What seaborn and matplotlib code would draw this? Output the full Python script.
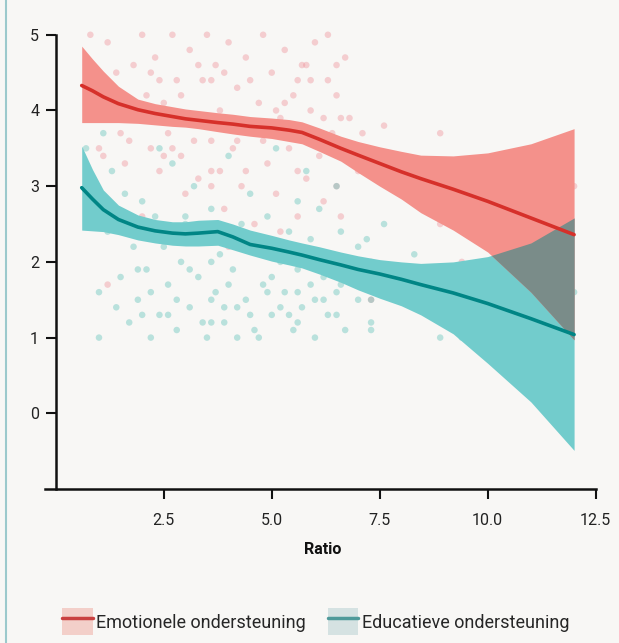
import numpy as np
import pandas as pd
import matplotlib.pyplot as plt
import seaborn as sns
from matplotlib.patches import Patch
from matplotlib.lines import Line2D

# scatter points (ratio, score)
emo_x = [0.7, 0.8, 1.0, 1.2, 1.3, 1.5, 1.6, 1.8, 1.9, 2.0, 2.1, 2.2, 2.3, 2.4, 2.5, 2.6, 2.7, 2.8, 2.9, 3.0,
         3.1, 3.2, 3.3, 3.4, 3.5, 3.6, 3.7, 3.8, 3.8, 3.9, 4.0, 4.1, 4.2, 4.3, 4.4, 4.5, 4.6, 4.7, 4.8, 4.9,
         5.0, 5.1, 5.2, 5.3, 5.4, 5.5, 5.6, 5.6, 5.7, 5.8, 5.9, 6.0, 6.1, 6.2, 6.3, 6.4, 6.5, 6.5, 6.6, 6.7,
         6.8, 7.0, 7.3, 7.3, 7.6, 8.2, 8.9, 8.9, 9.4, 12.0, 1.2, 2.0, 3.0, 4.0, 5.2, 7.3, 1.1, 2.4, 3.6, 6.3,
         0.9, 1.4, 1.7, 2.2, 2.5, 2.9, 3.3, 3.6, 3.6, 3.6, 4.2, 4.5, 4.8, 5.3, 5.6, 5.6, 5.9, 6.2, 6.5, 6.8,
         1.0, 1.6, 2.7, 3.2, 3.9, 4.4, 5.1, 5.8, 6.6, 7.1]
emo_y = [4.6, 5.0, 4.4, 4.9, 4.2, 3.7, 3.3, 4.6, 3.9, 5.0, 4.2, 3.5, 4.7, 3.2, 4.1, 3.7, 5.0, 4.4, 3.4, 2.9,
         4.8, 3.9, 3.1, 4.4, 5.0, 3.6, 4.6, 3.2, 4.0, 2.7, 4.9, 3.5, 4.3, 3.0, 4.7, 3.8, 2.5, 4.1, 5.0, 3.3,
         4.5, 2.9, 3.9, 4.8, 3.5, 4.2, 2.6, 3.8, 4.6, 3.1, 4.0, 4.9, 3.4, 2.8, 4.4, 3.7, 4.2, 3.0, 2.6, 4.7,
         3.5, 3.2, 2.0, 1.5, 3.8, 2.9, 3.7, 2.5, 2.0, 3.0, 1.7, 2.6, 2.3, 2.2, 2.4, 1.8, 3.4, 4.4, 3.0, 5.0,
         3.9, 4.5, 3.6, 4.5, 3.4, 4.2, 4.6, 4.4, 3.9, 3.2, 3.6, 4.4, 3.6, 4.1, 4.4, 3.2, 4.4, 3.9, 4.6, 3.9,
         3.5, 4.0, 3.5, 3.6, 4.5, 3.2, 4.0, 4.6, 3.9, 3.7]

edu_x = [0.7, 0.8, 1.0, 1.1, 1.3, 1.5, 1.6, 1.8, 1.9, 2.0, 2.1, 2.2, 2.3, 2.4, 2.5, 2.6, 2.7, 2.8, 2.9, 3.0,
         3.1, 3.2, 3.3, 3.4, 3.5, 3.6, 3.7, 3.8, 3.9, 4.0, 4.1, 4.2, 4.3, 4.4, 4.5, 4.6, 4.7, 4.8, 4.9, 5.0,
         5.1, 5.2, 5.3, 5.4, 5.5, 5.6, 5.6, 5.7, 5.8, 5.9, 6.0, 6.1, 6.2, 6.3, 6.4, 6.5, 6.5, 6.6, 6.7, 6.8,
         7.0, 7.2, 7.3, 7.3, 7.6, 8.3, 8.9, 9.4, 9.4, 11.4, 12.0, 1.2, 3.0, 4.3, 2.4, 3.9, 5.0, 1.7,
         1.4, 1.9, 2.2, 2.6, 3.1, 3.6, 3.6, 3.6, 4.0, 4.5, 4.9, 5.2, 5.6, 5.6, 5.9, 6.2, 6.5, 6.9, 7.3, 7.3,
         1.0, 2.0, 2.8, 3.4, 4.2, 4.7, 5.4, 6.0, 6.6, 7.0]
edu_y = [3.5, 2.7, 1.0, 3.7, 3.2, 1.8, 2.9, 2.2, 1.5, 2.8, 1.9, 1.0, 2.6, 1.3, 2.2, 1.7, 3.3, 1.1, 2.0, 2.5,
         1.4, 3.0, 1.8, 2.3, 1.0, 2.7, 1.6, 2.1, 1.2, 3.4, 1.9, 1.0, 2.5, 1.5, 2.9, 1.1, 2.2, 1.7, 2.6, 1.3,
         3.5, 2.0, 1.6, 2.4, 1.1, 2.8, 1.9, 1.4, 3.2, 2.3, 1.0, 2.7, 1.8, 1.3, 2.1, 3.0, 1.6, 2.4, 1.1, 2.0,
         1.5, 2.3, 1.2, 1.7, 2.5, 2.1, 1.0, 1.5, 1.0, 1.0, 1.6, 2.4, 2.6, 3.8, 3.5, 1.4, 1.8, 1.2,
         1.4, 1.9, 1.6, 1.3, 1.9, 1.5, 2.0, 1.2, 1.7, 1.3, 1.6, 1.4, 1.6, 1.2, 1.7, 1.5, 1.3, 1.8, 1.5, 1.1,
         1.6, 1.3, 1.5, 1.2, 1.4, 1.0, 1.3, 1.5, 1.7, 2.2]

# smoothed fit + confidence band
grid = [0.6, 0.85, 1.1, 1.45, 1.9, 2.3, 2.7, 3.0, 3.3, 3.75, 4.1, 4.5, 5.0, 5.4, 5.7, 6.1, 6.6, 7.0,
        7.5, 8.0, 8.45, 9.2, 10.0, 11.0, 12.0]
emo_fit = [4.33, 4.26, 4.18, 4.09, 4.01, 3.96, 3.92, 3.89, 3.87, 3.84, 3.82, 3.79, 3.77, 3.74, 3.71,
           3.62, 3.50, 3.41, 3.30, 3.19, 3.10, 2.96, 2.80, 2.58, 2.36]
emo_hi = [4.85, 4.68, 4.52, 4.32, 4.15, 4.09, 4.05, 4.02, 4.00, 3.97, 3.95, 3.92, 3.90, 3.88, 3.85,
          3.77, 3.66, 3.59, 3.52, 3.46, 3.41, 3.40, 3.44, 3.56, 3.76]
emo_lo = [3.84, 3.84, 3.84, 3.84, 3.83, 3.81, 3.79, 3.78, 3.76, 3.72, 3.69, 3.66, 3.63, 3.59, 3.56,
          3.46, 3.33, 3.18, 3.00, 2.83, 2.65, 2.42, 2.13, 1.60, 0.97]
edu_fit = [2.98, 2.83, 2.69, 2.56, 2.46, 2.41, 2.38, 2.37, 2.38, 2.40, 2.33, 2.23, 2.18, 2.13, 2.09,
           2.03, 1.96, 1.90, 1.84, 1.77, 1.70, 1.59, 1.45, 1.25, 1.04]
edu_hi = [3.53, 3.22, 2.95, 2.75, 2.62, 2.56, 2.53, 2.53, 2.55, 2.56, 2.50, 2.42, 2.35, 2.29, 2.25,
          2.20, 2.13, 2.08, 2.03, 2.00, 1.98, 2.00, 2.07, 2.25, 2.58]
edu_lo = [2.42, 2.41, 2.40, 2.36, 2.29, 2.25, 2.22, 2.21, 2.21, 2.22, 2.16, 2.09, 2.01, 1.96, 1.92,
          1.84, 1.73, 1.63, 1.52, 1.42, 1.30, 1.05, 0.66, 0.15, -0.49]

labels = ['Emotionele ondersteuning', 'Educatieve ondersteuning']

bg = '#f8f7f5'
red_line, red_band, red_pt = '#d6302a', '#f4918b', '#ee8f98'
teal_line, teal_band, teal_pt = '#008585', '#72cccc', '#5cc0b8'
overlap = '#7a8c89'

sns.set_theme(style='ticks')
plt.rcParams['font.family'] = ['Roboto', 'DejaVu Sans']

fig = plt.figure(figsize=(6.19, 6.43), dpi=100, facecolor=bg)
ax = fig.add_axes([0.0727, 0.2395, 0.8966, 0.7123])
ax.set_facecolor(bg)

pts = pd.concat([
    pd.DataFrame({'Ratio': emo_x, 'score': emo_y, 'type': labels[0]}),
    pd.DataFrame({'Ratio': edu_x, 'score': edu_y, 'type': labels[1]}),
])
sns.scatterplot(data=pts, x='Ratio', y='score', hue='type', palette=[red_pt, teal_pt],
                s=22, alpha=0.4, linewidth=0, legend=False, ax=ax, zorder=1)

g = np.array(grid)
ax.fill_between(g, edu_lo, edu_hi, color=teal_band, lw=0, zorder=2)
ax.fill_between(g, emo_lo, emo_hi, color=red_band, lw=0, zorder=3)
lo = np.maximum(emo_lo, edu_lo)
hi = np.minimum(emo_hi, edu_hi)
ax.fill_between(g, lo, hi, where=hi > lo, interpolate=True, color=overlap, lw=0, zorder=4)

fit = pd.concat([
    pd.DataFrame({'Ratio': grid, 'score': edu_fit, 'type': labels[1]}),
    pd.DataFrame({'Ratio': grid, 'score': emo_fit, 'type': labels[0]}),
])
sns.lineplot(data=fit, x='Ratio', y='score', hue='type', hue_order=labels,
             palette=[red_line, teal_line], lw=2.6, legend=False, ax=ax, zorder=5)

ax.set_xlim(-0.25, 12.6)
ax.set_ylim(-1, 5.05)
ax.set_xticks([2.5, 5.0, 7.5, 10.0, 12.5])
ax.set_xticklabels(['2.5', '5.0', '7.5', '10.0', '12.5'])
ax.set_yticks([0, 1, 2, 3, 4, 5])
ax.spines['left'].set_position(('data', 0))
ax.spines['left'].set_bounds(-1, 5)
ax.spines['bottom'].set_bounds(-0.25, 12.5)
for s in ['top', 'right']:
    ax.spines[s].set_visible(False)
for s in ['left', 'bottom']:
    ax.spines[s].set_linewidth(1.8)
    ax.spines[s].set_color('#111111')
ax.tick_params(axis='both', length=7, width=1.5, color='#111111', labelsize=11.5, labelcolor='#222222')
ax.tick_params(axis='x', pad=10)
ax.tick_params(axis='y', pad=5)
ax.set_xlabel('Ratio', fontsize=11.5, fontweight='bold', labelpad=10, color='#111111')
ax.set_ylabel('')

# thin left border of the panel
fig.add_artist(Line2D([0.0097, 0.0097], [0, 1], transform=fig.transFigure, color='#9cc9cc', lw=1.5))

handles = [
    (Patch(facecolor='#f3cfc9', edgecolor='none'), Line2D([], [], color='#c94040', lw=2.5)),
    (Patch(facecolor='#d5e2e2', edgecolor='none'), Line2D([], [], color='#4f9a9a', lw=2.5)),
]
fig.legend(handles, labels, loc='center', bbox_to_anchor=(0.51, 0.033), ncol=2, frameon=False,
           fontsize=13, handlelength=1.7, handleheight=1.9, handletextpad=0.2, columnspacing=1.2)

fig.savefig('out.png', dpi=100, facecolor=bg)
